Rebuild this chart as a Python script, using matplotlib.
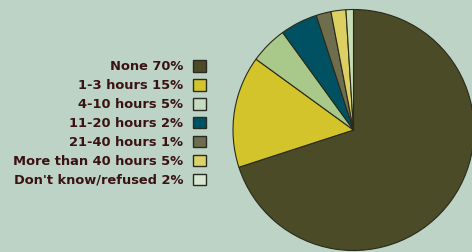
import matplotlib
matplotlib.use("Agg")
from matplotlib import pyplot as plt
from matplotlib.patches import Patch

# categories as printed in the legend
labels = ["None 70%", "1-3 hours 15%", "4-10 hours 5%", "11-20 hours 2%",
          "21-40 hours 1%", "More than 40 hours 5%", "Don't know/refused 2%"]
# slice sizes as they appear in the pie
shares = [70, 15, 5, 5, 2, 2, 1]

pie_colors = ["#4b4b27", "#d4c42b", "#a9c98b", "#005262",
              "#6e6e4e", "#dcd062", "#c6deb4"]
swatch_colors = ["#4b4b27", "#d4c42b", "#c4dcc0", "#005262",
                 "#6e6e4e", "#dcd26a", "#d6e6d2"]

bg = "#bdd3c6"
W, H = 472, 252
fig = plt.figure(figsize=(W / 100, H / 100), dpi=100, facecolor=bg)

# pie centre (353.5, 130) px from top-left, radius 120.5 px
cx, cy, r = 353.5, 130, 120.5
ax = fig.add_axes([(cx - r) / W, (H - cy - r) / H, 2 * r / W, 2 * r / H])
ax.pie(shares, colors=pie_colors, startangle=90, counterclock=False,
       wedgeprops=dict(edgecolor="#2a2a1c", linewidth=0.8))
ax.set_xlim(-1, 1)
ax.set_ylim(-1, 1)
ax.set_facecolor(bg)

handles = [Patch(facecolor=c, edgecolor="#2a2a22", linewidth=1.0) for c in swatch_colors]
leg = fig.legend(handles, labels, loc="upper right",
                 bbox_to_anchor=(206 / W, 1 - 60 / H), bbox_transform=fig.transFigure,
                 frameon=False, markerfirst=False, borderpad=0, borderaxespad=0,
                 handlelength=1.0, handleheight=1.0, handletextpad=0.76,
                 labelspacing=0.43, prop=dict(family="DejaVu Sans", weight="bold", size=9.4))
for t in leg.get_texts():
    t.set_color("#3a1212")

fig.savefig("out.png", dpi=100, facecolor=bg)
